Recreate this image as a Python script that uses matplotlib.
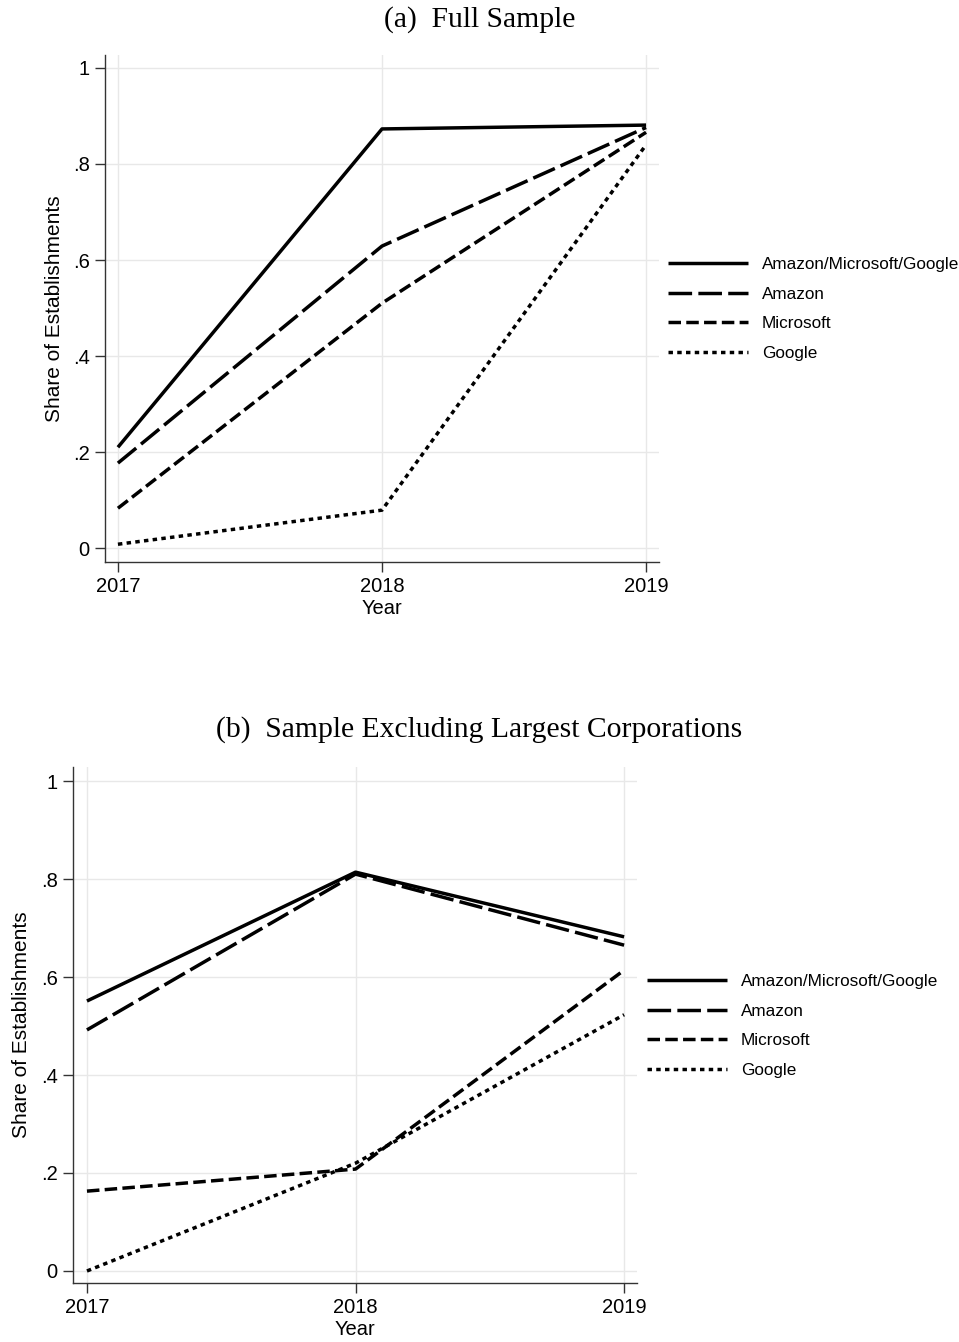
import matplotlib
matplotlib.use("Agg")
import matplotlib.pyplot as plt

plt.rcParams['font.family'] = ['Liberation Sans', 'DejaVu Sans']
plt.rcParams['lines.scale_dashes'] = False

years = [2017, 2018, 2019]
labels = ["Amazon/Microsoft/Google", "Amazon", "Microsoft", "Google"]

# panel (a) full sample
full_any = [0.21, 0.873, 0.881]
full_amazon = [0.177, 0.629, 0.876]
full_microsoft = [0.083, 0.51, 0.866]
full_google = [0.008, 0.079, 0.84]

# panel (b) excluding largest corporations
excl_any = [0.551, 0.814, 0.682]
excl_amazon = [0.492, 0.81, 0.665]
excl_microsoft = [0.163, 0.208, 0.614]
excl_google = [0.0, 0.22, 0.523]

yticks = [0, 0.2, 0.4, 0.6, 0.8, 1]
ytick_labels = ["0", ".2", ".4", ".6", ".8", "1"]

styles = [
    dict(linestyle='-'),
    dict(linestyle=(0, (17, 4.5))),
    dict(linestyle=(0, (9, 3.8))),
    dict(linestyle=(0, (3.2, 3.1))),
]

fig = plt.figure(figsize=(9.59, 13.42), dpi=100)


def panel(rect, series, ylim, xlim, title, title_y, leg_anchor, ylab_x):
    ax = fig.add_axes(rect)
    for vals, lab, st in zip(series, labels, styles):
        ax.plot(years, vals, color='black', lw=2.5, label=lab,
                solid_capstyle='butt', dash_capstyle='butt', **st)
    ax.set_xlim(*xlim)
    ax.set_ylim(*ylim)
    ax.set_xticks(years)
    ax.set_xticklabels([str(y) for y in years])
    ax.set_yticks(yticks)
    ax.set_yticklabels(ytick_labels)
    ax.grid(True, color='#e8e8e8', lw=1.0)
    ax.set_axisbelow(True)
    for s in ['top', 'right']:
        ax.spines[s].set_visible(False)
    for s in ['left', 'bottom']:
        ax.spines[s].set_color('#333333')
        ax.spines[s].set_linewidth(1.0)
    ax.tick_params(direction='out', length=7, width=1.0, color='#333333',
                   labelsize=14.5, pad=4)
    ax.set_xlabel("Year", fontsize=14.5, labelpad=2)
    ax.set_ylabel("Share of Establishments", fontsize=15)
    ax.yaxis.set_label_coords(ylab_x, 0.5)
    fig.text(0.5, title_y, title, ha='center', va='center',
             fontsize=21.3, family='Liberation Serif')
    fig.legend(*ax.get_legend_handles_labels(), loc='center left',
               bbox_to_anchor=leg_anchor, frameon=False, fontsize=12.3,
               handlelength=4.7, handletextpad=0.8, labelspacing=0.85,
               borderaxespad=0, borderpad=0)
    return ax


panel([105 / 959, 1 - 562 / 1342, 554 / 959, 507 / 1342],
      [full_any, full_amazon, full_microsoft, full_google],
      (-0.029, 1.027), (2016.951, 2019.049),
      "(a)  Full Sample", 1 - 20 / 1342,
      (668 / 959, 1 - 309 / 1342), -0.074)

panel([73 / 959, 1 - 1283 / 1342, 564 / 959, 516 / 1342],
      [excl_any, excl_amazon, excl_microsoft, excl_google],
      (-0.0245, 1.0286), (2016.948, 2019.048),
      "(b)  Sample Excluding Largest Corporations", 1 - 730 / 1342,
      (647 / 959, 1 - 1026 / 1342), -0.074)

fig.savefig("out.png", dpi=100)
